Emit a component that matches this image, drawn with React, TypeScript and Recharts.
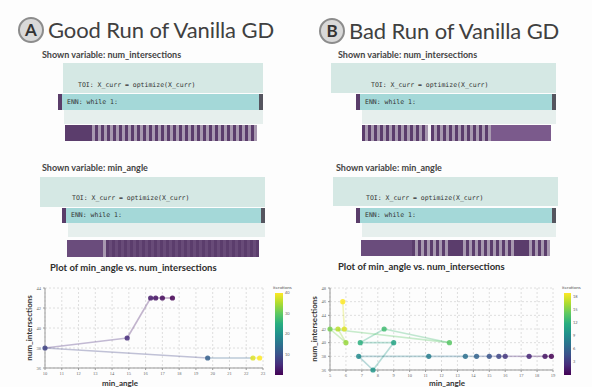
import React from "react";
import { BarChart, Bar, Cell, XAxis, YAxis, ScatterChart, Scatter, CartesianGrid } from "recharts";

// ---- data ----
const goodStripeTop = "########" + "#-#-#-#-#-#-#-" + "#-#-#-#-#-#-#-" + "#-#-#-#-#-#-#-" + "#-#-#-#-#-#-#-";
const goodStripeBottom = "mmmmmmmmmmmm" + "-" + "#d#d#d#d#d#d#d#d#d#d" + "#d#d#d#d#d#d#d#d#d#d" + "#d#d#d#d#d#";
const badStripeTop = "#-#-#-#-#-#-#-#-#-#-#-" + " " + "#-#-#-#-#-#-#-#-#-#-" + "pppppppppppppppppppp";
const badStripeBottom = "mmmmmmmmmmmmmmmmm" + "#-#-#-#-#-#-" + "#####" + "-#-#-#-#-#-#-#-#-#" + "####" + "-#-#-#-";

const goodXTicks = [10, 11, 12, 13, 14, 15, 16, 17, 18, 19, 20, 21, 22, 23];
const goodYTicks = [36, 38, 40, 42, 44];
const goodAngle = [17.6, 17.0, 16.6, 16.3, 14.9, 10.0, 19.7, 22.4, 22.8];
const goodInter = [43, 43, 43, 43, 39, 38, 37, 37, 37];
const goodIter = [0, 1, 2, 3, 5, 8, 12, 38, 40];
const goodCbTicks = [10, 20, 30, 40];

const badXTicks = [5, 6, 7, 8, 9, 10, 11, 12, 13, 14, 15, 16, 17, 18, 19];
const badYTicks = [36, 38, 40, 42, 44, 46, 48];
const badAngle = [18.9, 18.5, 17.5, 16.0, 15.6, 15.0, 14.2, 13.5, 11.2, 6.8, 7.7, 9.0, 6.9, 8.4, 12.5, 5.0, 6.0, 5.5, 5.9, 5.8];
const badInter = [38, 38, 38, 38, 38, 38, 38, 38, 38, 38, 36, 40, 40, 42, 40, 42, 40, 42, 42, 46];
const badIter = [0, 1, 2, 3, 4, 5, 6, 7, 8, 9, 10, 11, 12, 13, 14, 15, 16, 17, 18, 19];
const badCbTicks = [3, 6, 9, 12, 15, 18];

const STRIPE_COLORS: Record<string, string> = {
  "#": "#5b3d6c",
  d: "#684b78",
  "-": "#a899b0",
  m: "#6a4c7c",
  p: "#7b5a8c",
  " ": "#f3f1f4",
};

const VIRIDIS = ["#440154", "#472d7b", "#3b528b", "#2c728e", "#21918c", "#28ae80", "#5ec962", "#addc30", "#fde725"];

function viridis(t: number) {
  const c = Math.max(0, Math.min(1, t)) * (VIRIDIS.length - 1);
  const i = Math.min(Math.floor(c), VIRIDIS.length - 2);
  const f = c - i;
  const a = VIRIDIS[i], b = VIRIDIS[i + 1];
  const ch = (s: string, k: number) => parseInt(s.slice(1 + k * 2, 3 + k * 2), 16);
  const mix = [0, 1, 2].map((k) => Math.round(ch(a, k) + (ch(b, k) - ch(a, k)) * f));
  return `rgb(${mix[0]},${mix[1]},${mix[2]})`;
}

const abs = (x: number, y: number, extra: React.CSSProperties = {}): React.CSSProperties => ({
  position: "absolute",
  left: x,
  top: y,
  ...extra,
});

function Label({ x, y, size, text, weight = 700, color = "#3a3a3a", family = "Lato" }: any) {
  return (
    <div style={abs(x, y - size / 2, { fontSize: size, lineHeight: `${size}px`, fontWeight: weight, color, fontFamily: family, whiteSpace: "nowrap" })}>
      {text}
    </div>
  );
}

function Header({ x, y, letter, title }: any) {
  return (
    <>
      <div
        style={abs(x - 13, y - 13, {
          width: 22,
          height: 22,
          borderRadius: "50%",
          background: "#d9d9d9",
          border: "2px solid #8c8c8c",
          color: "#333",
          fontFamily: "Lato",
          fontWeight: 700,
          fontSize: 17,
          lineHeight: "22px",
          textAlign: "center",
        })}
      >
        {letter}
      </div>
      <div style={abs(x + 17, y - 13, { fontFamily: "Lato", fontSize: 22, lineHeight: "26px", color: "#404040", whiteSpace: "nowrap", letterSpacing: -0.1 })}>
        {title}
      </div>
    </>
  );
}

function Stripe({ x, y, cells, height }: any) {
  const data = cells.split("").map((c: string, i: number) => ({ i, c, v: 1 }));
  return (
    <div style={abs(x, y)}>
      <BarChart width={cells.length * 3} height={height} data={data} margin={{ top: 0, right: 0, bottom: 0, left: 0 }} barCategoryGap={0} barGap={0}>
        <XAxis dataKey="i" hide />
        <YAxis hide domain={[0, 1]} />
        <Bar dataKey="v" isAnimationActive={false}>
          {data.map((d: any) => (
            <Cell key={d.i} fill={STRIPE_COLORS[d.c]} />
          ))}
        </Bar>
      </BarChart>
    </div>
  );
}

function CodeGroup({ labelX, labelY, label, box, code, row, stripe }: any) {
  return (
    <>
      <Label x={labelX} y={labelY} size={9} text={label} color="#444" />
      <div style={abs(box.x, box.y, { width: box.w, height: box.h, background: "#d5e8e4" })} />
      <div style={abs(row.x + 6, row.y + row.h, { width: row.w - 6, height: 14, background: "#e6efed" })} />
      <Label x={code.x} y={code.y} size={6.5} text="TOI: X_curr = optimize(X_curr)" weight={400} color="#333" family="DejaVu Sans Mono" />
      <div style={abs(row.x, row.y, { width: row.w, height: row.h, background: "#a4d8d8" })} />
      <div style={abs(row.x, row.y, { width: 4, height: row.h, background: "#5a3d6a" })} />
      <div style={abs(row.x + row.w - 4, row.y, { width: 4, height: row.h, background: "#55555f" })} />
      <Label x={row.x + 9} y={row.y + row.h / 2} size={6.5} text="ENN: while 1:" weight={400} color="#333" family="DejaVu Sans Mono" />
      <Stripe x={stripe.x} y={stripe.y} cells={stripe.cells} height={stripe.h} />
    </>
  );
}

function Trajectory({ x, y, w, h, yAxisW, angle, inter, iter, xTicks, yTicks, maxIt, cb, cbTicks, xLabelX, yLabelX }: any) {
  const pts = angle.map((a: number, i: number) => ({ x: a, y: inter[i], it: iter[i] }));
  const segs = pts.slice(0, -1).map((p: any, i: number) => [p, pts[i + 1]]);
  const plotTop = y + 8;
  const plotBottom = y + h - 12;
  return (
    <>
      <div style={abs(x, y)}>
        <ScatterChart width={w + 10} height={h} margin={{ top: 8, right: 10, bottom: 4, left: 0 }}>
          <CartesianGrid stroke="#dedede" strokeDasharray="2 2" />
          <XAxis
            type="number"
            dataKey="x"
            domain={[xTicks[0], xTicks[xTicks.length - 1]]}
            ticks={xTicks}
            height={8}
            tick={{ fontSize: 4.5, fill: "#666" }}
            tickSize={2}
            stroke="#999"
            interval={0}
          />
          <YAxis
            type="number"
            dataKey="y"
            domain={[yTicks[0], yTicks[yTicks.length - 1]]}
            ticks={yTicks}
            width={yAxisW}
            tick={{ fontSize: 4.5, fill: "#666" }}
            tickSize={2}
            stroke="#999"
            interval={0}
          />
          {segs.map((s: any, i: number) => (
            <Scatter
              key={i}
              data={s}
              line={{ stroke: viridis(s[0].it / maxIt), strokeWidth: 1.6, strokeOpacity: 0.32 }}
              shape={() => <g />}
              isAnimationActive={false}
            />
          ))}
          <Scatter
            data={pts}
            isAnimationActive={false}
            shape={(p: any) => <circle cx={p.cx} cy={p.cy} r={2.6} fill={viridis(p.payload.it / maxIt)} fillOpacity={0.85} />}
          />
        </ScatterChart>
      </div>
      <div
        style={abs(yLabelX, (plotTop + plotBottom) / 2, {
          transform: "translate(-50%, -50%) rotate(-90deg)",
          fontFamily: "Lato",
          fontWeight: 700,
          fontSize: 8,
          color: "#333",
          whiteSpace: "nowrap",
        })}
      >
        num_intersections
      </div>
      <Label x={xLabelX} y={383} size={8} text="min_angle" color="#333" />
      <div style={abs(cb.x, cb.y, { width: cb.w, height: cb.h, background: `linear-gradient(to top, ${VIRIDIS.join(",")})` })} />
      <Label x={cb.x - 2} y={cb.y - 5} size={4.5} text="iterations" weight={400} color="#555" />
      {cbTicks.map((t: number) => (
        <Label key={t} x={cb.x + cb.w + 2} y={cb.y + cb.h - (t / maxIt) * cb.h} size={4} text={String(t)} weight={400} color="#666" />
      ))}
    </>
  );
}

export default function App() {
  return (
    <div style={{ position: "absolute", left: 0, top: 0, width: 592, height: 387, background: "#fdfdfd", overflow: "hidden" }}>
      <Header x={31} y={30} letter="A" title="Good Run of Vanilla GD" />
      <Header x={332} y={31} letter="B" title="Bad Run of Vanilla GD" />

      <CodeGroup
        labelX={42} labelY={54.5} label="Shown variable: num_intersections"
        box={{ x: 63, y: 63, w: 200, h: 30 }} code={{ x: 78, y: 85 }}
        row={{ x: 58, y: 94, w: 205, h: 16 }}
        stripe={{ x: 65, y: 125, h: 16, cells: goodStripeTop }}
      />
      <CodeGroup
        labelX={42} labelY={167.5} label="Shown variable: min_angle"
        box={{ x: 40, y: 177, w: 225, h: 30 }} code={{ x: 72, y: 198 }}
        row={{ x: 62, y: 208, w: 203, h: 15 }}
        stripe={{ x: 67, y: 240, h: 17, cells: goodStripeBottom }}
      />
      <CodeGroup
        labelX={338} labelY={54.5} label="Shown variable: num_intersections"
        box={{ x: 331, y: 63, w: 225, h: 30 }} code={{ x: 371, y: 85 }}
        row={{ x: 356, y: 94, w: 200, h: 16 }}
        stripe={{ x: 362, y: 125, h: 16, cells: badStripeTop }}
      />
      <CodeGroup
        labelX={336} labelY={167.5} label="Shown variable: min_angle"
        box={{ x: 333, y: 177, w: 225, h: 29 }} code={{ x: 366, y: 198 }}
        row={{ x: 356, y: 208, w: 200, h: 15 }}
        stripe={{ x: 361, y: 240, h: 16, cells: badStripeBottom }}
      />

      <Label x={50} y={267.5} size={9.5} text="Plot of min_angle vs. num_intersections" color="#2e2e2e" />
      <Label x={338} y={267} size={9.5} text="Plot of min_angle vs. num_intersections" color="#2e2e2e" />

      <Trajectory
        x={20} y={280} w={243} h={100} yAxisW={25}
        angle={goodAngle} inter={goodInter} iter={goodIter}
        xTicks={goodXTicks} yTicks={goodYTicks} maxIt={40}
        cb={{ x: 275, y: 293, w: 8, h: 82 }} cbTicks={goodCbTicks}
        xLabelX={102} yLabelX={29}
      />
      <Trajectory
        x={300} y={280} w={253} h={102} yAxisW={30}
        angle={badAngle} inter={badInter} iter={badIter}
        xTicks={badXTicks} yTicks={badYTicks} maxIt={19}
        cb={{ x: 564, y: 293, w: 7, h: 82 }} cbTicks={badCbTicks}
        xLabelX={429} yLabelX={314}
      />
</div>
  );
}
